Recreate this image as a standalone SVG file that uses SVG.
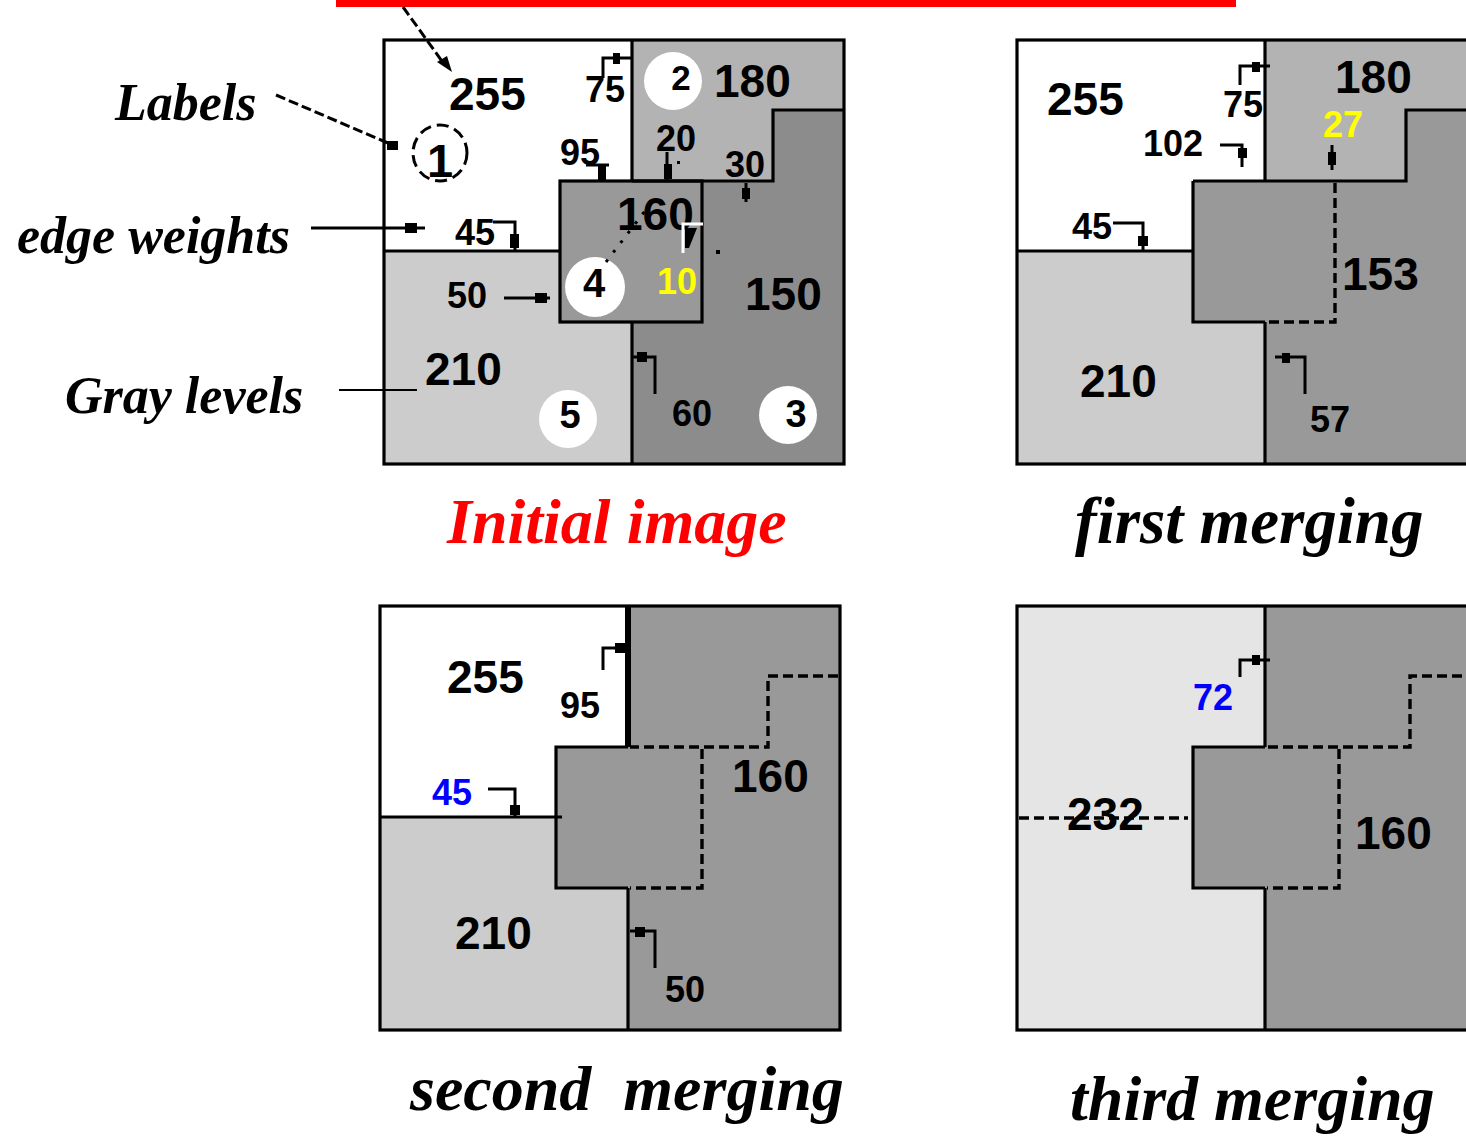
<svg xmlns="http://www.w3.org/2000/svg" width="1466" height="1138" viewBox="0 0 1466 1138">
<style>
.bd{fill:none;stroke:#000;stroke-width:3.2;stroke-linejoin:miter}
.ds{fill:none;stroke:#000;stroke-width:3.4;stroke-dasharray:10 5}
.big{font-family:"Liberation Sans",Arial,sans-serif;font-weight:bold;font-size:46px;fill:#000}
.sm{font-family:"Liberation Sans",Arial,sans-serif;font-weight:bold;font-size:36px;fill:#000}
.lab{font-family:"Liberation Sans",Arial,sans-serif;font-weight:bold;font-size:38px;fill:#000;text-anchor:middle}
.ttl{font-family:"Liberation Serif","Times New Roman",serif;font-weight:bold;font-style:italic;font-size:64px;fill:#000;white-space:pre}
.side{font-family:"Liberation Serif","Times New Roman",serif;font-weight:bold;font-style:italic;font-size:52px;fill:#000}
.arw{fill:none;stroke:#000;stroke-width:3}
.hd{fill:#000}
.wc{fill:#fff}
</style>

<rect x="336" y="0" width="900" height="7" fill="#ff0000"/>

<!-- Panel 1: initial image -->
<g id="panel-initial">
  <rect x="384" y="40" width="460" height="424" fill="#fff"/>
  <polygon points="632,40 844,40 844,110 773,110 773,181 632,181" fill="#b3b3b3"/>
  <polygon points="773,110 844,110 844,464 632,464 632,322 702,322 702,181 773,181" fill="#8c8c8c"/>
  <rect x="560" y="181" width="142" height="141" fill="#999"/>
  <polygon points="384,251 560,251 560,322 632,322 632,464 384,464" fill="#ccc"/>
  <rect class="bd" x="384" y="40" width="460" height="424"/>
  <polyline class="bd" points="632,40 632,181"/>
  <polyline class="bd" points="632,181 773,181 773,110 844,110"/>
  <rect class="bd" x="560" y="181" width="142" height="141"/>
  <polyline class="bd" points="384,251 560,251"/>
  <polyline class="bd" points="632,322 632,464"/>
</g>
<g id="node-1">
  <ellipse cx="440" cy="153" rx="27" ry="28" fill="none" stroke="#000" stroke-width="3" stroke-dasharray="12 6"/>
  <text class="lab" x="440" y="177" style="font-size:47px">1</text>
</g>
<g id="node-2">
  <circle class="wc" cx="673" cy="81" r="29"/>
  <text class="lab" x="681" y="90" style="font-size:35px">2</text>
  <text class="big" x="714" y="97">180</text>
</g>
<g id="node-4">
  <circle class="wc" cx="595" cy="287" r="30"/>
  <text class="lab" x="594" y="297" style="font-size:40px">4</text>
  <text class="big" x="617" y="230">160</text>
</g>
<g id="node-5">
  <circle class="wc" cx="568" cy="419" r="29"/>
  <text class="lab" x="570" y="428">5</text>
  <text class="big" x="425" y="385">210</text>
</g>
<g id="node-3">
  <circle class="wc" cx="788" cy="415" r="29"/>
  <text class="lab" x="796" y="427">3</text>
  <text class="big" x="745" y="310">150</text>
</g>
<g id="node-255">
  <text class="big" x="449" y="110">255</text>
</g>
<g id="weights-initial">
  <text class="sm" x="585" y="102">75</text>
  <text class="sm" x="560" y="165">95</text>
  <text class="sm" x="656" y="151">20</text>
  <text class="sm" x="725" y="177">30</text>
  <text class="sm" x="657" y="294" style="fill:#ffff00">10</text>
  <text class="sm" x="455" y="245">45</text>
  <text class="sm" x="447" y="308">50</text>
  <text class="sm" x="672" y="426">60</text>
</g>

<!-- Panel 2: first merging -->
<g id="panel-first" transform="translate(633,0)">
  <rect x="384" y="40" width="460" height="424" fill="#fff"/>
  <polygon points="632,40 844,40 844,110 773,110 773,181 632,181" fill="#b3b3b3"/>
  <polygon points="773,110 844,110 844,464 632,464 632,322 560,322 560,181 773,181" fill="#999"/>
  <polygon points="384,251 560,251 560,322 632,322 632,464 384,464" fill="#ccc"/>
  <rect class="bd" x="384" y="40" width="460" height="424"/>
  <polyline class="bd" points="632,40 632,181"/>
  <polyline class="bd" points="560,181 773,181 773,110 844,110"/>
  <polyline class="bd" points="560,181 560,322 632,322"/>
  <polyline class="bd" points="384,251 560,251"/>
  <polyline class="bd" points="632,322 632,464"/>
  <polyline class="ds" points="702,183 702,322 634,322"/>
</g>
<g id="labels-first">
  <text class="big" x="1047" y="115">255</text>
  <text class="big" x="1335" y="93">180</text>
  <text class="sm" x="1223" y="117">75</text>
  <text class="sm" x="1143" y="156">102</text>
  <text class="sm" x="1323" y="137" style="fill:#ffff00">27</text>
  <text class="sm" x="1072" y="239">45</text>
  <text class="big" x="1342" y="290">153</text>
  <text class="big" x="1080" y="397">210</text>
  <text class="sm" x="1310" y="432">57</text>
</g>

<!-- Panel 3: second merging -->
<g id="panel-second" transform="translate(-4,566)">
  <rect x="384" y="40" width="460" height="424" fill="#fff"/>
  <polygon points="632,40 844,40 844,464 632,464 632,322 560,322 560,181 632,181" fill="#999"/>
  <polygon points="384,251 560,251 560,322 632,322 632,464 384,464" fill="#ccc"/>
  <rect class="bd" x="384" y="40" width="460" height="424"/>
  <polyline class="bd" points="632,40 632,181" style="stroke-width:6"/>
  <polyline class="bd" points="632,181 560,181 560,322 632,322"/>
  <polyline class="bd" points="384,251 566,251"/>
  <polyline class="bd" points="632,322 632,464"/>
  <polyline class="ds" points="842,110 772,110 772,181 634,181"/>
  <polyline class="ds" points="706,183 706,322 634,322"/>
</g>
<g id="labels-second">
  <text class="big" x="447" y="693">255</text>
  <text class="sm" x="560" y="718">95</text>
  <text class="big" x="732" y="792">160</text>
  <text class="sm" x="432" y="805" style="fill:#0000ff">45</text>
  <text class="big" x="455" y="949">210</text>
  <text class="sm" x="665" y="1002">50</text>
</g>

<!-- Panel 4: third merging -->
<g id="panel-third" transform="translate(633,566)">
  <rect x="384" y="40" width="460" height="424" fill="#e5e5e5"/>
  <polygon points="632,40 844,40 844,464 632,464 632,322 560,322 560,181 632,181" fill="#999"/>
  <rect class="bd" x="384" y="40" width="460" height="424"/>
  <polyline class="bd" points="632,40 632,181"/>
  <polyline class="bd" points="632,181 560,181 560,322 632,322"/>
  <polyline class="bd" points="632,322 632,464"/>
  <polyline class="ds" points="844,110 777,110 777,181 634,181"/>
  <polyline class="ds" points="706,183 706,322 634,322"/>
  <polyline class="ds" points="386,252 555,252"/>
</g>
<g id="labels-third">
  <text class="sm" x="1193" y="710" style="fill:#0000ff">72</text>
  <text class="big" x="1067" y="830">232</text>
  <text class="big" x="1355" y="849">160</text>
</g>

<!-- Side labels and titles -->
<g id="side-labels">
  <text class="side" x="115" y="120">Labels</text>
  <text class="side" x="17" y="253">edge weights</text>
  <text class="side" x="65" y="413">Gray levels</text>
</g>
<g id="titles">
  <text class="ttl" x="447" y="543" style="fill:#ff0000">Initial image</text>
  <text class="ttl" x="1075" y="543" style="font-size:65px">first merging</text>
  <text class="ttl" x="410" y="1110">second  merging</text>
  <text class="ttl" x="1070" y="1120">third merging</text>
</g>

<!-- Connectors -->
<g id="connectors">
  <polyline class="arw" points="276,95 388,143" stroke-dasharray="10 4"/>
  <rect class="hd" x="387" y="141" width="11" height="9"/>
  <line class="arw" x1="311" y1="228" x2="425" y2="228"/>
  <rect class="hd" x="405" y="223" width="12" height="10"/>
  <line x1="339" y1="390" x2="417" y2="390" stroke="#000" stroke-width="2"/>
  <line class="arw" x1="403" y1="7" x2="444" y2="64" stroke-dasharray="10 4"/>
  <polygon class="hd" points="437,62 447,56 452,72"/>
  <line class="arw" x1="606" y1="262" x2="648" y2="207" stroke-dasharray="3 9"/>

  <polyline class="arw" points="603,78 603,58 632,58"/>
  <rect class="hd" x="613" y="53" width="7" height="11"/>
  <line class="arw" x1="586" y1="165" x2="609" y2="165" stroke-width="4"/>
  <rect class="hd" x="598" y="165" width="8" height="16"/>
  <line class="arw" x1="667" y1="152" x2="667" y2="180"/>
  <rect class="hd" x="664" y="164" width="8" height="15"/>
  <rect class="hd" x="677" y="161" width="3" height="3"/>
  <line class="arw" x1="746" y1="183" x2="746" y2="202"/>
  <rect class="hd" x="742" y="188" width="8" height="11"/>
  <polyline class="arw" points="493,222 515,222 515,251"/>
  <rect class="hd" x="510" y="234" width="9" height="14"/>
  <line class="arw" x1="504" y1="298" x2="550" y2="298"/>
  <rect class="hd" x="535" y="293" width="12" height="10"/>
  <polyline class="arw" points="632,357 655,357 655,394"/>
  <rect class="hd" x="637" y="352" width="10" height="10"/>
  <polyline points="683,253 683,224 703,224" fill="none" stroke="#fff" stroke-width="3"/>
  <polygon class="hd" points="685,228 697,228 693,238 689,248 685,248"/>
  <rect class="hd" x="716" y="250" width="4" height="4"/>

  <polyline class="arw" points="1240,85 1240,66 1270,66"/>
  <rect class="hd" x="1252" y="62" width="8" height="10"/>
  <polyline class="arw" points="1220,145 1242,145 1242,167"/>
  <rect class="hd" x="1238" y="148" width="9" height="10"/>
  <line class="arw" x1="1332" y1="145" x2="1332" y2="170"/>
  <rect class="hd" x="1328" y="152" width="8" height="13"/>
  <polyline class="arw" points="1113,223 1143,223 1143,251"/>
  <rect class="hd" x="1138" y="236" width="10" height="10"/>
  <polyline class="arw" points="1275,357 1305,357 1305,394"/>
  <rect class="hd" x="1282" y="353" width="8" height="10"/>

  <polyline class="arw" points="603,670 603,648 630,648"/>
  <rect class="hd" x="615" y="643" width="10" height="10"/>
  <polyline class="arw" points="488,789 515,789 515,818"/>
  <rect class="hd" x="510" y="805" width="10" height="10"/>
  <polyline class="arw" points="630,931 655,931 655,968"/>
  <rect class="hd" x="635" y="927" width="10" height="10"/>

  <polyline class="arw" points="1240,677 1240,660 1270,660"/>
  <rect class="hd" x="1252" y="655" width="8" height="10"/>
</g>
</svg>
